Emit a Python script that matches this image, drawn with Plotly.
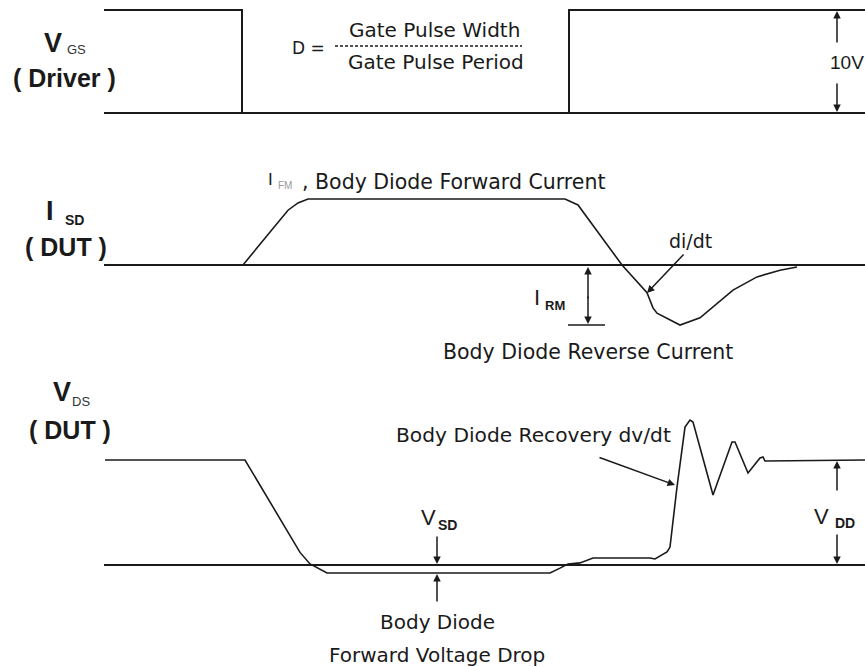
import plotly.graph_objects as go

W, H = 865, 667      # target window
OFF = 0              # body margin removed via post_script
PW, PH = W - OFF, H - OFF

# ---------------- data ----------------
# Gate drive pulse (V)
vgs_time = [104, 242, 242, 569, 569, 865]
vgs_volts = [10, 10, 0, 0, 10, 10]

# Body-diode current, relative to I_FM
isd_time = [243, 288, 298, 308, 565, 578, 622, 647, 653, 657, 680, 700, 733, 757, 780, 797]
isd_rel = [0, 0.83, 0.94, 1.0, 1.0, 0.91, 0, -0.42, -0.65, -0.73, -0.91, -0.80, -0.38, -0.18, -0.08, -0.03]

# Drain-source voltage, relative to V_DD
vds_time = [105, 245, 300, 310, 327, 550, 560, 568, 580, 593, 650, 655, 667, 670, 677,
            685, 690, 693, 713, 732, 735, 748, 760, 763, 765, 865]
vds_rel = [1, 1, 0.12, 0.01, -0.076, -0.076, -0.03, 0.01, 0.02, 0.067, 0.067, 0.057, 0.124, 0.171, 0.743,
           1.314, 1.381, 1.362, 0.667, 1.171, 1.171, 0.876, 1.019, 1.029, 0.99, 1]

baseline_time = [104, 865]
baseline_level = [0, 0]

# ---------------- helpers ----------------
def yrange(zero_px, px_per_unit, top_px, bottom_px):
    return [(zero_px - bottom_px) / px_per_unit, (zero_px - top_px) / px_per_unit]

def dom(top_px, bottom_px):
    lo = max(0.0, 1 - (bottom_px - OFF) / PH)
    hi = min(1.0, 1 - (top_px - OFF) / PH)
    return [lo, hi]

def px(x, y):
    return (x - OFF) / PW, 1 - (y - OFF) / PH

INK = "#1a1a1a"
TXT = "DejaVu Sans"
BOLD = "Liberation Sans"

fig = go.Figure()

line_main = dict(color=INK, width=2)
line_wave = dict(color=INK, width=1.6)

for yax in ["y", "y2", "y3"]:
    fig.add_trace(go.Scatter(x=baseline_time, y=baseline_level, mode="lines",
                             line=line_main, yaxis=yax, xaxis="x", hoverinfo="skip"))

fig.add_trace(go.Scatter(x=vgs_time, y=vgs_volts, mode="lines", line=line_main,
                         yaxis="y", xaxis="x", hoverinfo="skip"))
fig.add_trace(go.Scatter(x=isd_time, y=isd_rel, mode="lines", line=line_wave,
                         yaxis="y2", xaxis="x", hoverinfo="skip"))
fig.add_trace(go.Scatter(x=vds_time, y=vds_rel, mode="lines", line=line_wave,
                         yaxis="y3", xaxis="x", hoverinfo="skip"))

ann = []

def text(x, y, s, size, family=TXT, bold=False, color=INK, xanchor="center"):
    xp, yp = px(x, y)
    ann.append(dict(x=xp, y=yp, xref="paper", yref="paper", text=(f"<b>{s}</b>" if bold else s),
                    showarrow=False, xanchor=xanchor, yanchor="middle",
                    font=dict(family=family, size=size, color=color)))

def arrow(x0, y0, x1, y1, w=1.5, size=1.0):
    xp, yp = px(x1, y1)
    ann.append(dict(x=xp, y=yp, xref="paper", yref="paper", text="", showarrow=True,
                    ax=x0 - x1, ay=y0 - y1, axref="pixel", ayref="pixel",
                    arrowhead=2, arrowsize=size, arrowwidth=w, arrowcolor=INK, standoff=0))

# panel labels
text(53, 43, "V", 27, BOLD, True)
text(76, 50, "GS", 13, BOLD, False, "#333")
text(64, 78, "( Driver )", 25, BOLD, True)

text(50, 211, "I", 27, BOLD, True)
text(74, 220, "SD", 14, BOLD, True)
text(66, 247, "( DUT )", 25, BOLD, True)

text(62, 392, "V", 27, BOLD, True)
text(81, 401, "DS", 13, BOLD, False, "#333")
text(70, 430, "( DUT )", 25, BOLD, True)

# duty-cycle formula
text(308, 48, "D =", 17)
text(434, 30, "Gate Pulse Width", 20)
text(436, 62, "Gate Pulse Period", 20)

# 10V arrow
text(847, 63, "10V", 19, "Liberation Sans")
arrow(837, 44, 837, 11)
arrow(837, 82, 837, 112)

# I_SD annotations
text(270, 180, "I", 17, "Liberation Sans")
text(285, 185, "FM", 10, "Liberation Sans", False, "#999")
text(453, 182, ", Body Diode Forward Current", 20.5)
text(690, 241, "di/dt", 19)
arrow(685, 253, 647, 293)
text(537, 297, "I", 22, "Liberation Sans")
text(555, 305, "RM", 13, "Liberation Sans", True)
arrow(588, 300, 588, 267)
arrow(588, 295, 588, 324)
text(588, 352, "Body Diode Reverse Current", 20.5)

# V_DS annotations
text(533, 435, "Body Diode Recovery dv/dt", 20.2)
arrow(598, 457, 675, 485)
text(428, 517, "V", 22, "Liberation Sans")
text(448, 525, "SD", 14, "Liberation Sans", True)
arrow(437, 535, 437, 564)
arrow(437, 603, 437, 574)
text(437, 622, "Body Diode", 20)
text(437, 655, "Forward Voltage Drop", 20)
text(821, 516, "V", 22, "Liberation Sans")
text(845, 523, "DD", 14, "Liberation Sans", True)
arrow(837, 492, 837, 461)
arrow(837, 533, 837, 564)

dash_y = px(0, 46)[1]
shapes = [
    dict(type="line", xref="x", yref="paper", x0=335, x1=522, y0=dash_y, y1=dash_y,
         line=dict(color=INK, width=1.5, dash="3px,2px")),
    dict(type="line", xref="x", yref="y2", x0=568, x1=605, y0=min(isd_rel), y1=min(isd_rel),
         line=dict(color=INK, width=1.5)),
]

hidden = dict(visible=False, showgrid=False, zeroline=False, fixedrange=True)

fig.update_layout(
    width=PW, height=PH,
    margin=dict(l=0, r=0, t=0, b=0),
    paper_bgcolor="white", plot_bgcolor="white",
    showlegend=False,
    xaxis=dict(range=[OFF, W], domain=[0, 1], **hidden),
    yaxis=dict(domain=dom(OFF, 140), range=yrange(113, 10.3, OFF, 140), anchor="x", **hidden),
    yaxis2=dict(domain=dom(140, 380), range=yrange(265, 66, 140, 380), anchor="x", **hidden),
    yaxis3=dict(domain=dom(380, H), range=yrange(565, 105, 380, H), anchor="x", **hidden),
    annotations=ann,
    shapes=shapes,
)

fig.write_html("out.html", config={"displayModeBar": False},
               post_script="document.body.style.margin='0';document.body.style.overflow='hidden';")
